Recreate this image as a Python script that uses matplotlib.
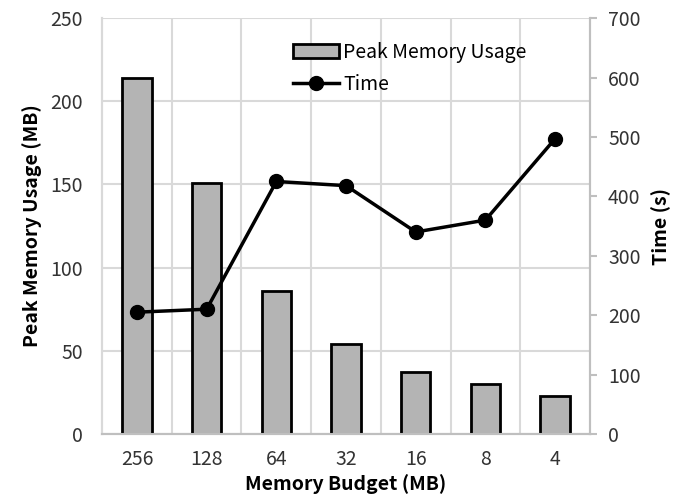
import numpy as np
import matplotlib.pyplot as plt

plt.rcParams['font.family'] = ['Noto Sans CJK KR', 'DejaVu Sans']

budgets = ['256', '128', '64', '32', '16', '8', '4']
peak_mem = [214, 151, 86, 54, 37, 30, 23]
time_s = [205, 210, 425, 418, 340, 360, 497]

fig = plt.figure(figsize=(6.9, 5.04), dpi=100)
ax = fig.add_axes([0.148, 0.139, 0.707, 0.825])
ax2 = ax.twinx()

x = np.arange(len(budgets))
bars = ax.bar(x, peak_mem, width=0.42, color='#b4b4b4', edgecolor='black',
              linewidth=2, label='Peak Memory Usage', zorder=3)
line, = ax2.plot(x, time_s, color='black', linewidth=2.5, marker='o',
                 markersize=10, label='Time', zorder=4)

ax.set_xlim(-0.5, len(budgets) - 0.5)
ax.set_ylim(0, 250)
ax.set_yticks(np.arange(0, 251, 50))
ax2.set_ylim(0, 700)
ax2.set_yticks(np.arange(0, 701, 100))

ax.set_xticks(x)
ax.set_xticklabels(budgets)
ax.set_xticks(np.arange(0.5, len(budgets) - 0.5, 1), minor=True)
ax.grid(True, which='minor', axis='x', color='#d9d9d9', linewidth=1.5, zorder=0)
ax.grid(True, which='major', axis='y', color='#d9d9d9', linewidth=1.5, zorder=0)
ax.tick_params(axis='x', which='both', length=0, labelsize=14, colors='#333333', pad=11)
ax.tick_params(axis='y', length=0, labelsize=14, colors='#333333', pad=14)
ax2.tick_params(axis='y', length=5, color='#bfbfbf', width=1.5, labelsize=14,
                colors='#333333', pad=8)

for a in (ax, ax2):
    a.spines['top'].set_visible(False)
    a.spines['left'].set_color('#d9d9d9')
    a.spines['left'].set_linewidth(1.5)
    a.spines['bottom'].set_color('#bfbfbf')
    a.spines['bottom'].set_linewidth(1.5)
    a.spines['right'].set_color('#bfbfbf')
    a.spines['right'].set_linewidth(1.5)

ax.set_xlabel('Memory Budget (MB)', fontsize=14, fontweight='bold', labelpad=3)
ax.set_ylabel('Peak Memory Usage (MB)', fontsize=14, fontweight='bold', labelpad=6)
ax2.set_ylabel('Time (s)', fontsize=14, fontweight='bold', labelpad=8)

ax2.legend([bars, line], ['Peak Memory Usage', 'Time'], loc='upper left',
           bbox_to_anchor=(0.355, 0.985), frameon=False, fontsize=14,
           handlelength=2.4, handletextpad=0.2, labelspacing=0.55)

fig.savefig('out.png', dpi=100)
